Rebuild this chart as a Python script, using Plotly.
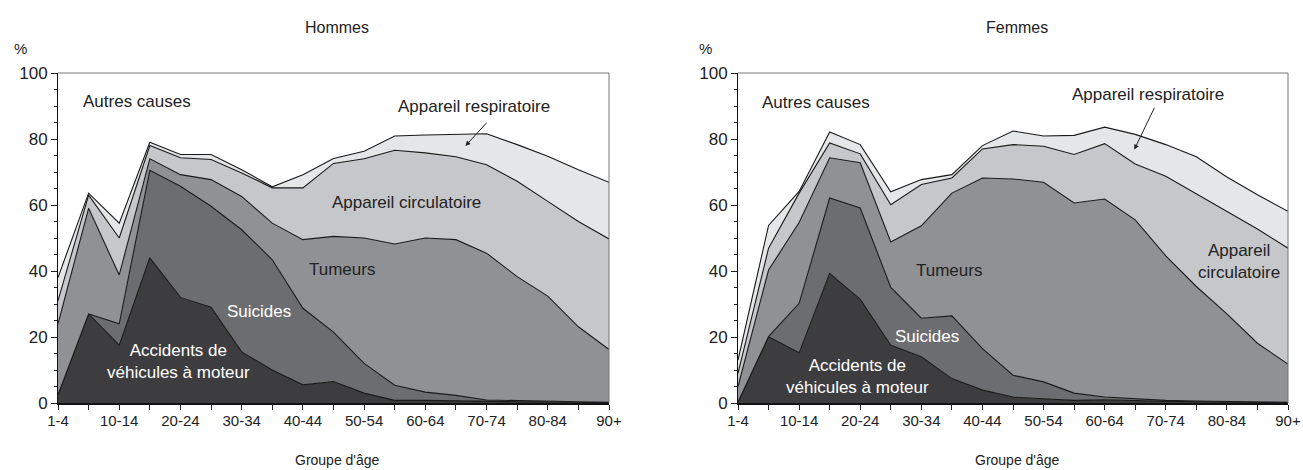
import plotly.graph_objects as go

age_groups = ["1-4", "5-9", "10-14", "15-19", "20-24", "25-29", "30-34", "35-39",
              "40-44", "45-49", "50-54", "55-59", "60-64", "65-69", "70-74",
              "75-79", "80-84", "85-89", "90+"]
shown_ticks = ["1-4", "10-14", "20-24", "30-34", "40-44", "50-54", "60-64",
               "70-74", "80-84", "90+"]

causes = ["Accidents de véhicules à moteur", "Suicides", "Tumeurs",
          "Appareil circulatoire", "Appareil respiratoire"]

# Hommes: share of deaths (%) by cause
h_accidents = [2.5, 27, 17.5, 44, 32, 29, 15.5, 10, 5.5, 6.5, 3, 0.8, 0.8, 0.6, 0.4, 0.4, 0.4, 0.2, 0.1]
h_suicides = [0, 0, 6.5, 26.5, 33.7, 30.6, 37, 33.4, 23.2, 15, 9, 4.6, 2.5, 1.7, 0.5, 0.4, 0.3, 0.2, 0.1]
h_tumeurs = [21.5, 32, 14.8, 3.5, 3.5, 8.1, 10.1, 11.1, 20.8, 29, 38, 42.8, 46.7, 47.2, 44.5, 37.5, 31.7, 22.7, 16.0]
h_circulatoire = [7, 4, 11.2, 4, 5.1, 6.1, 7.1, 10.7, 15.7, 22.1, 24, 28.4, 25.8, 25.1, 26.8, 28.9, 28.7, 31.9, 33.5]
h_respiratoire = [7, 0.6, 4.5, 1, 1, 1.5, 1, 0.3, 4, 1.5, 2.3, 4.3, 5.4, 6.8, 9.4, 11.1, 13.7, 15.7, 17.2]

# Femmes
f_accidents = [0.3, 20.1, 15.2, 39.3, 31.4, 17.5, 14.0, 7.4, 3.9, 1.8, 1.3, 0.8, 1.0, 0.7, 0.5, 0.4, 0.3, 0.2, 0.1]
f_suicides = [0, 0, 15, 22.8, 27.7, 17.5, 11.7, 19, 12.6, 6.6, 5.1, 2.2, 0.8, 0.5, 0.3, 0.2, 0.1, 0.1, 0.1]
f_tumeurs = [4.7, 20.2, 24.5, 12.2, 13.7, 13.8, 28, 37.2, 51.7, 59.5, 60.5, 57.6, 60, 54.3, 43.8, 34.7, 26.6, 17.8, 11.6]
f_circulatoire = [4, 6.6, 8.9, 4.5, 2.7, 11.3, 12.5, 4.6, 8.8, 10.4, 10.9, 14.7, 16.8, 16.9, 24.1, 28.1, 31.1, 34.6, 35.1]
f_respiratoire = [4, 6.9, 0.5, 3.3, 2.8, 3.9, 1.5, 1, 1, 4.1, 3.1, 5.8, 5, 9, 9.6, 11.2, 10.4, 10.4, 11.2]

colors = ["#3d3d3f", "#6c6d71", "#909195", "#c6c7ca", "#e5e6e8"]
FONT = "Liberation Sans, Arial, Helvetica, sans-serif"
TXT = "#222222"

xs = list(range(len(age_groups)))
tickvals = xs
ticktext = [a if a in shown_ticks else "" for a in age_groups]

fig = go.Figure()
panels = [
    ("x", "y", "h", [h_accidents, h_suicides, h_tumeurs, h_circulatoire, h_respiratoire]),
    ("x2", "y2", "f", [f_accidents, f_suicides, f_tumeurs, f_circulatoire, f_respiratoire]),
]
for xa, ya, grp, series in panels:
    for name, vals, col in zip(causes, series, colors):
        fig.add_trace(go.Scatter(
            x=xs, y=vals, name=name, xaxis=xa, yaxis=ya, stackgroup=grp,
            mode="lines", line=dict(color="#1a1a1a", width=1.1),
            fillcolor=col, hoverinfo="skip", showlegend=False))

W, H = 1303, 470
ml, mr, mt, mb = 58, 15, 73, 67
pw = W - ml - mr
ph = H - mt - mb
dom_left = [0, (609 - ml) / pw]
dom_right = [(738 - ml) / pw, 1]

def xaxis(domain, anchor):
    return dict(domain=domain, anchor=anchor, range=[0, 18], tickvals=tickvals,
                ticktext=ticktext, ticks="outside", ticklen=5, tickwidth=1,
                tickcolor="#222", showline=True, linecolor="#111", linewidth=2,
                showgrid=False, zeroline=False, ticklabelstandoff=-2, automargin=False,
                tickfont=dict(family=FONT, size=15, color=TXT))

def yaxis(anchor):
    return dict(domain=[0, 1], anchor=anchor, range=[0, 100], tickvals=[0, 20, 40, 60, 80, 100],
                ticks="outside", ticklen=6, tickwidth=1, tickcolor="#222", automargin=False,
                minor=dict(dtick=5, ticks="outside", ticklen=3, tickcolor="#222", showgrid=False),
                showline=True, linecolor="#111", linewidth=1, showgrid=False, zeroline=False,
                tickfont=dict(family=FONT, size=17, color=TXT))

fig.update_layout(
    width=W, height=H, margin=dict(l=ml, r=mr, t=mt, b=mb),
    paper_bgcolor="white", plot_bgcolor="white",
    xaxis=xaxis(dom_left, "y"), yaxis=yaxis("x"),
    xaxis2=xaxis(dom_right, "y2"), yaxis2=yaxis("x2"),
    showlegend=False,
)

# frame top/right lines
for xr, yr in [("x domain", "y domain"), ("x2 domain", "y2 domain")]:
    fig.add_shape(type="line", xref=xr, yref=yr, x0=0, x1=1, y0=1, y1=1,
                  line=dict(color="#777", width=1), layer="above")
    fig.add_shape(type="line", xref=xr, yref=yr, x0=1, x1=1, y0=0, y1=1,
                  line=dict(color="#777", width=1), layer="above")

def label(text, x, y, xr, yr, color=TXT, size=17):
    fig.add_annotation(text=text, x=x, y=y, xref=xr, yref=yr, showarrow=False,
                       font=dict(family=FONT, size=size, color=color),
                       xanchor="center", yanchor="middle")

def px_x(p):
    return (p - ml) / pw

def px_y(p):
    return (H - mb - p) / ph

def paper_text(text, px, py, size):
    fig.add_annotation(text=text, x=px_x(px), y=px_y(py), xref="paper", yref="paper",
                       xanchor="center", yanchor="middle", showarrow=False,
                       font=dict(family=FONT, size=size, color=TXT))

# Panel titles, % labels and axis titles
paper_text("Hommes", 337, 27, 16)
paper_text("Femmes", 1017, 27, 16)
paper_text("%", 20, 48, 15)
paper_text("%", 705, 48, 15)
paper_text("Groupe d'âge", 337, 460, 14)
paper_text("Groupe d'âge", 1017, 460, 14)

# Hommes labels
label("Autres causes", 2.58, 91.5, "x", "y")
label("Appareil respiratoire", 13.6, 90, "x", "y")
label("Appareil circulatoire", 11.4, 60.9, "x", "y")
label("Tumeurs", 9.28, 40.5, "x", "y")
label("Suicides", 6.57, 27.7, "x", "y", color="white")
label("Accidents de<br>véhicules à moteur", 3.95, 12.5, "x", "y", color="white")
fig.add_annotation(x=13.31, y=77.9, ax=14.05, ay=85.4, xref="x", yref="y", axref="x", ayref="y",
                   text="", showarrow=True, arrowhead=2, arrowsize=1, arrowwidth=1, arrowcolor="#222")

# Femmes labels
label("Autres causes", 2.56, 91.0, "x2", "y2")
label("Appareil respiratoire", 13.42, 93.5, "x2", "y2")
label("Appareil<br>circulatoire", 16.38, 42.9, "x2", "y2")
label("Tumeurs", 6.91, 40.3, "x2", "y2")
label("Suicides", 6.2, 20.3, "x2", "y2", color="white")
label("Accidents de<br>véhicules à moteur", 3.9, 8.0, "x2", "y2", color="white")
fig.add_annotation(x=12.97, y=76.8, ax=13.65, ay=89.9, xref="x2", yref="y2", axref="x2", ayref="y2",
                   text="", showarrow=True, arrowhead=2, arrowsize=1, arrowwidth=1, arrowcolor="#222")

fig.write_html("out.html", config={"displayModeBar": False},
               post_script="document.body.style.margin='0';")
